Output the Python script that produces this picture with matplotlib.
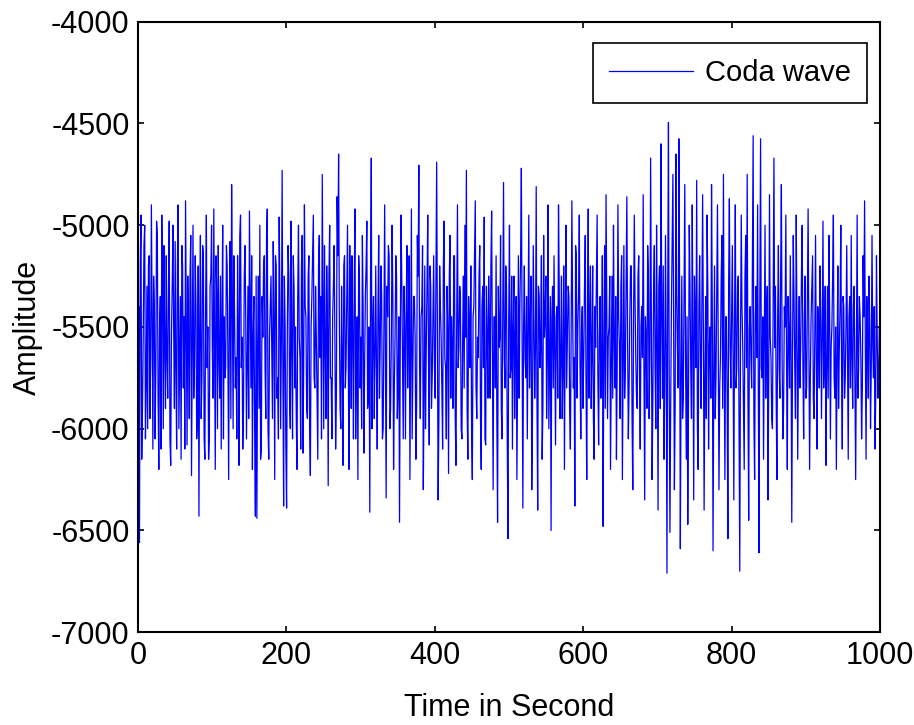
import numpy as np
import matplotlib
matplotlib.use("Agg")
import matplotlib.pyplot as plt

# amplitude samples: even seconds ...
amp_even = [
    -5750, -6560, -4950, -5900, -5100, -6050, -5300, -5200, -5950, -4900, -6100, -5400, -5700, -5050, -6200, -5350, -4950, -6000, -5600, -5150,
    -5850, -4980, -6180, -5300, -5500, -5080, -6100, -4900, -5650, -6150, -5200, -5450, -4880, -6080, -5550, -5250, -6230, -5000, -5700, -5400,
    -5950, -6430, -5050, -5750, -5150, -6150, -4950, -5500, -6050, -5250, -5600, -4920, -6200, -5350, -5100, -5850, -6100, -5000, -5450, -5700,
    -5200, -6250, -5080, -4800, -6000, -5450, -5650, -5150, -6180, -4950, -5550, -5900, -5100, -6050, -5300, -4930, -5800, -6200, -5350, -6430,
    -6440, -5250, -5000, -6100, -5550, -5150, -5950, -4920, -6150, -5400, -5600, -5080, -6250, -5200, -5750, -4960, -6000, -4730, -6380, -5500,
    -6390, -5100, -5850, -4980, -6050, -5300, -5500, -6200, -5000, -5650, -5200, -6120, -4900, -5450, -5950, -5150, -6230, -5350, -4950, -5800,
    -5550, -6150, -5050, -5350, -4750, -6000, -5600, -5200, -6280, -5000, -5750, -5450, -5100, -6100, -4860, -4650, -5900, -5300, -6180, -5150,
    -5700, -5000, -6200, -5400, -5150, -6050, -4920, -5650, -6250, -5250, -5550, -5050, -6120, -5350, -4980, -5850, -6410, -4670, -5500, -5950,
    -5200, -6100, -5050, -5600, -5350, -6000, -4900, -6340, -5450, -5150, -5900, -5000, -6200, -5550, -5250, -5800, -6460, -4950, -5650, -5300,
    -6050, -5100, -5500, -6250, -4920, -5700, -5350, -6150, -5050, -4705, -5950, -5400, -6300, -5200, -5600, -4950, -6080, -5300, -5750, -5150,
    -5850, -4690, -6350, -5200, -5550, -6100, -4980, -5700, -5300, -6220, -5050, -5450, -5900, -5150, -6180, -4900, -5600, -5350, -6050, -5250,
    -5000, -4730, -6150, -5500, -5200, -6250, -5400, -4880, -5950, -5650, -5100, -6200, -5300, -4960, -6080, -5550, -5250, -5850, -4930, -6300,
    -5450, -5150, -6460, -5600, -5050, -6050, -4790, -5800, -5300, -6540, -5000, -5700, -6100, -5250, -5550, -6250, -5150, -5400, -4720, -6390,
    -5200, -5750, -6050, -4950, -5500, -6300, -5100, -5850, -4810, -6400, -5350, -5600, -6150, -5050, -5450, -5950, -4900, -5650, -6500, -5300,
    -5150, -6080, -5400, -4900, -5950, -5250, -5700, -6200, -5000, -5550, -5350, -6100, -4880, -5800, -6380, -5150, -5500, -4950, -6050, -5400,
    -5650, -5050, -6250, -4920, -5450, -5900, -5200, -6150, -5600, -4950, -6080, -5350, -5750, -6480, -5100, -4850, -5950, -5500, -6200, -5250,
    -5000, -5800, -6150, -4900, -5600, -5300, -6250, -5100, -5700, -4860, -6050, -5450, -5200, -6300, -4950, -5650, -5900, -5150, -6100, -5400,
    -4850, -6350, -5550, -5100, -5950, -4670, -6250, -5300, -5700, -5000, -6400, -5200, -4600, -5850, -6150, -5050, -6710, -4495, -6510, -5400,
    -4750, -6300, -4650, -5600, -4575, -6590, -5250, -5850, -4800, -6150, -6470, -5000, -5700, -4900, -6350, -5450, -4780, -6200, -5150, -5900,
    -4850, -6400, -5350, -4950, -6100, -5500, -4800, -6600, -5200, -5750, -4900, -6300, -5650, -5050, -4750, -6250, -5450, -6540, -4870, -5800,
    -5100, -6350, -4900, -5700, -5250, -6700, -4950, -5600, -6200, -5050, -4750, -6450, -5400, -5800, -4560, -6250, -5300, -4900, -6610, -4575,
    -5750, -6150, -5000, -5450, -6350, -4850, -5650, -6000, -4670, -5300, -6250, -5100, -5850, -4800, -6050, -5400, -4950, -6200, -5550, -5150,
    -6460, -5050, -5700, -4950, -6150, -5350, -5600, -5000, -6050, -5250, -5800, -4920, -6200, -5450, -5150, -5950, -5050, -6100, -5500, -5200,
    -5950, -4980, -5650, -6180, -5300, -5050, -6050, -5500, -4950, -5850, -6200, -5200, -5600, -5000, -6100, -5400, -5750, -5100, -6150, -5350,
    -5050, -5900, -5300, -6250, -4950, -5700, -5450, -6050, -5150, -4880, -6150, -5550, -5250, -6000, -5050, -5750, -6100, -5150, -5850, -5500,
]
# ... and odd seconds
amp_odd = [
    -5400, -5200, -6150, -5550, -5000, -5800, -6000, -5150, -5650, -5450, -5250, -6050, -4980, -5850, -5500, -6100, -5300, -5100, -5900, -5650,
    -5300, -6050, -5550, -5000, -5900, -5700, -5200, -6000, -5350, -5100, -5800, -6100, -5450, -5250, -5950, -5050, -5600, -5850, -5150, -6050,
    -5200, -5500, -5950, -5100, -6050, -5400, -5700, -6150, -5300, -5000, -5850, -5550, -5150, -6000, -5650, -5250, -5450, -6050, -5750, -5100,
    -5650, -5400, -5950, -5350, -5150, -5800, -6050, -5500, -5050, -5700, -6100, -5250, -5450, -5650, -5950, -5400, -5150, -5550, -6000, -5250,
    -5600, -5900, -6150, -5350, -5200, -5700, -5050, -6000, -5550, -5250, -5950, -5450, -5150, -5850, -6050, -5350, -5550, -5700, -5250, -6100,
    -5500, -5250, -6000, -5600, -5150, -5800, -5950, -5350, -5550, -6100, -5050, -5700, -5400, -5900, -5250, -6000, -5500, -5150, -5750, -5300,
    -5850, -5200, -5650, -6050, -5400, -5100, -5950, -5500, -5250, -5750, -6050, -5300, -5550, -5850, -5150, -5450, -6000, -5650, -5200, -5800,
    -5350, -5650, -5100, -5900, -5550, -5300, -6050, -5450, -5150, -5800, -6000, -5400, -5700, -5200, -5900, -5500, -5250, -6000, -5350, -5650,
    -5700, -5400, -5850, -5200, -6050, -5500, -5650, -5300, -5100, -6000, -5550, -5350, -5800, -5150, -5950, -5450, -5600, -5250, -6050, -5500,
    -5400, -5800, -5150, -5600, -6050, -5350, -5550, -5900, -5250, -5700, -5450, -5100, -5850, -6000, -5300, -5650, -5200, -5900, -5450, -5700,
    -5300, -5550, -5950, -5400, -5800, -5200, -5650, -6050, -5500, -5250, -5850, -5600, -5150, -5950, -5450, -5700, -5300, -6000, -5550, -5800,
    -5550, -5900, -5350, -5700, -6000, -5450, -5150, -5800, -5550, -5250, -5950, -5400, -5700, -6050, -5300, -5850, -5500, -5200, -5650, -5450,
    -5800, -5950, -5300, -5550, -5900, -5400, -5650, -5200, -6050, -5450, -5750, -5250, -5500, -5950, -5350, -5700, -5850, -5150, -5600, -5500,
    -5650, -5350, -5500, -5800, -5250, -5950, -5450, -5600, -5850, -5300, -5700, -5150, -5900, -5550, -5250, -5650, -6000, -5350, -5450, -5800,
    -5600, -5450, -5850, -5300, -5650, -5950, -5200, -5500, -5800, -5300, -5900, -5550, -5400, -5650, -5100, -5850, -5350, -5700, -5500, -5900,
    -5300, -5750, -5500, -5850, -5200, -5650, -5950, -5400, -5250, -5750, -5550, -5850, -5150, -5650, -5900, -5400, -5550, -5250, -5700, -5850,
    -5550, -5350, -5700, -5450, -5950, -5150, -5650, -5850, -5300, -5550, -5800, -5200, -5950, -5500, -5350, -5850, -5250, -5700, -5500, -5650,
    -5700, -5450, -5900, -5250, -5650, -5500, -5850, -5100, -6000, -5550, -5300, -5900, -5450, -5200, -5800, -5600, -5350, -5750, -5900, -5050,
    -5550, -5900, -5350, -5800, -5300, -5750, -5950, -5350, -5650, -5450, -5850, -5300, -5950, -5550, -5250, -5700, -6000, -5400, -5650, -5350,
    -5500, -5750, -5950, -5300, -5600, -5850, -5400, -5750, -5950, -5350, -5600, -5800, -5250, -5900, -5650, -5450, -5850, -5300, -5600, -5450,
    -5650, -5450, -5800, -5300, -5950, -5550, -5400, -5900, -5250, -5700, -5850, -5500, -5650, -5150, -5950, -5450, -5650, -5850, -5350, -5700,
    -5450, -5600, -5850, -5300, -5750, -5550, -5950, -5350, -5600, -5850, -5450, -5700, -5250, -5650, -5900, -5500, -5700, -5350, -5800, -5600,
    -5650, -5350, -5950, -5500, -5650, -5800, -5250, -5700, -5450, -5850, -5350, -5600, -5750, -5300, -5850, -5550, -5650, -5400, -5800, -5450,
    -5550, -5800, -5300, -5700, -5850, -5450, -5600, -5250, -5750, -5500, -5650, -5900, -5400, -5700, -5350, -5850, -5500, -5650, -5450, -5800,
    -5650, -5400, -5750, -5550, -5850, -5350, -5650, -5800, -5450, -5600, -5350, -5850, -5500, -5700, -5600, -5400, -5850, -5550, -5700, -5950,
]

# interleave into one trace, one sample per second
amp = np.empty(len(amp_even) + len(amp_odd))
amp[0::2] = amp_even
amp[1::2] = amp_odd
time = np.linspace(0, 1000, len(amp))

xticks = [0, 200, 400, 600, 800, 1000]
yticks = [-7000, -6500, -6000, -5500, -5000, -4500, -4000]

plt.rcParams['font.family'] = ['Liberation Sans', 'DejaVu Sans']
plt.rcParams['font.size'] = 22
plt.rcParams['axes.unicode_minus'] = False

fig = plt.figure(figsize=(9.14, 7.25), dpi=100)
ax = fig.add_axes([0.151, 0.128, 0.812, 0.842])

ax.plot(time, amp, color='#0000ff', linewidth=0.9, label='Coda wave')

ax.set_xlim(0, 1000)
ax.set_ylim(-7000, -4000)
ax.set_xticks(xticks)
ax.set_yticks(yticks)
ax.tick_params(direction='in', length=4, width=1.2, top=True, right=True, pad=6)
for s in ax.spines.values():
    s.set_linewidth(1.5)

ax.set_xlabel('Time in Second', labelpad=16)
ax.set_ylabel('Amplitude', labelpad=6)

leg = ax.legend(loc='upper right', bbox_to_anchor=(0.9825, 0.9656), fontsize=21,
                fancybox=False, framealpha=1, edgecolor='black',
                borderpad=0.55, handlelength=2.9, handletextpad=0.4, borderaxespad=0)
leg.get_frame().set_linewidth(1.2)

fig.savefig('out.png', dpi=100)
